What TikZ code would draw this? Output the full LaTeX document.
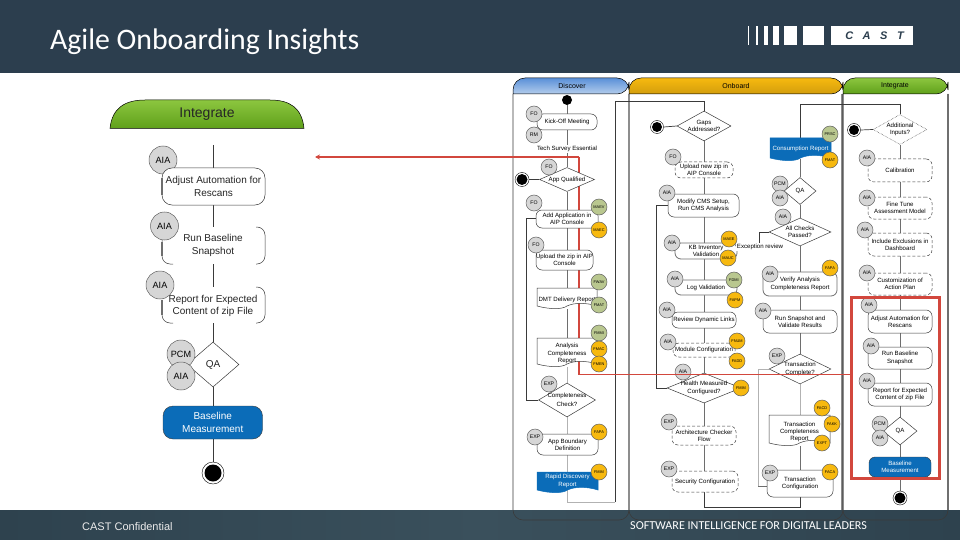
\documentclass[tikz,border=0pt]{standalone}
\usepackage{fontspec}
\setmainfont{Liberation Sans}
\newfontfamily\carlito{Carlito}
\usetikzlibrary{shapes.geometric,backgrounds,arrows.meta}
\definecolor{barcol}{HTML}{2C3E4E}
\definecolor{footcol}{HTML}{2E424E}
\definecolor{footlite}{HTML}{3A505C}
\definecolor{redcol}{HTML}{D2473D}
\definecolor{bluefill}{HTML}{0B6CB8}
\definecolor{rolegr}{HTML}{D6D6D6}
\definecolor{rolegn}{HTML}{B9C78F}
\definecolor{roleyl}{HTML}{F7B90F}
\definecolor{linecol}{HTML}{3A3A3A}
\definecolor{flowgr}{HTML}{6E6E6E}
\definecolor{greentop}{HTML}{8CC63F}
\definecolor{greenbot}{HTML}{5FA01A}
\definecolor{bluetop}{HTML}{5A90D8}
\definecolor{bluebot}{HTML}{B4CDEC}
\tikzset{
  small/.style={font=\fontsize{6.1}{7.3}\selectfont,align=center,inner sep=0pt,text=black},
  big/.style={font=\fontsize{10}{12.4}\selectfont,align=center,inner sep=0pt,text=black!85},
  headlabel/.style={small,font=\fontsize{7}{8}\selectfont},
  act/.style={draw=linecol,line width=0.5pt,fill=white,rounded corners=6pt,inner sep=0pt},
  actheavy/.style={act,draw=flowgr,line width=0.8pt},
  actdash/.style={act,densely dashed,draw=linecol},
  actbig/.style={act,rounded corners=10pt},
  actclear/.style={fill=white,inner sep=0pt},
  bluebox/.style={draw=linecol,line width=0.4pt,fill=bluefill,rounded corners=6pt,inner sep=0pt,text=white},
  bluebigbox/.style={bluebox,rounded corners=10pt},
  dia/.style={shape=diamond,draw=linecol,line width=0.5pt,fill=white,inner sep=0pt},
  diadash/.style={dia,densely dotted},
  rolegray/.style={circle,draw=linecol!80,line width=0.5pt,fill=rolegr,inner sep=0pt,text=black},
  rolegreen/.style={rolegray,fill=rolegn,font=\fontsize{3.9}{4}\selectfont},
  roleyellow/.style={rolegray,fill=roleyl,font=\fontsize{3.9}{4}\selectfont},
  flow/.style={draw=flowgr,line width=0.6pt},
  flowdark/.style={draw=linecol,line width=0.7pt},
  flowlite/.style={draw=black!30,line width=0.6pt},
  lane/.style={draw=linecol,line width=0.6pt,rounded corners=10pt},
  laneedge/.style={draw=black!45,line width=1.3pt},
  head/.style={draw=black,line width=0.5pt},
  redline/.style={draw=redcol,line width=1.7pt},
  bullseye/.style={circle,draw=black,line width=0.4pt,fill=white,inner sep=0pt},
  solidstart/.style={circle,fill=black,inner sep=0pt},
  docwhite/.style={fill=white,draw=linecol,line width=0.5pt},
  docblue/.style={fill=bluefill,draw=bluefill,line width=0.5pt}
}
% name, x1,y1,x2,y2 give the box corners
\newcommand\actnode[7][act]{\node[small,#1,minimum width={#5-#3},minimum height={#6-#4}] (#2) at ({(#3+#5)/2},{(#4+#6)/2}) {#7};}
\newcommand\bigact[7][actbig]{\node[big,#1,minimum width={#5-#3},minimum height={#6-#4}] (#2) at ({(#3+#5)/2},{(#4+#6)/2}) {#7};}
% diamond: name, cx, cy, half w, half h, text
\newcommand\dianode[7][dia]{\node[#1,minimum width={2*#5},minimum height={2*#6}] (#2) at (#3,#4) {};\node[small] (#2-t) at (#2.center) {#7};}
\newcommand\role[6][rolegray]{\pgfmathsetmacro\rolefs{#5*0.65}\node[font=\fontsize{\rolefs}{\rolefs}\selectfont,#1,minimum size={2*#5}] (#2) at (#3,#4) {#6};}
% document shape: style, name, x1,y1,x2,y2, text style, text
\newcommand\docnode[8][docwhite]{%
  \path[#1] (#3,#6) .. controls ({#3+0.22*(#5-#3)},{#6+3.5}) and ({#3+0.42*(#5-#3)},{#6+3.5}) .. ({(#3+#5)/2},#6) .. controls ({#3+0.62*(#5-#3)},{#6-3.5}) and ({#3+0.82*(#5-#3)},{#6-3.5}) .. (#5,#6) -- (#5,#4) -- (#3,#4) -- cycle;
  \node[small,#7,minimum width={#5-#3},minimum height={#6-#4}] (#2) at ({(#3+#5)/2},{(#4+#6)/2}) {#8};}
\newcommand\flw[4][flow]{\draw[#1] (#3.south -| #2) -- (#4.north -| #2);}
\begin{document}
\begin{tikzpicture}[x=1pt,y=-1pt]
\useasboundingbox (0,0) rectangle (960,540);
%%%%% top bar texts
\node[anchor=base west,text=white,inner sep=0pt,font=\carlito\fontsize{29.8}{32}\selectfont] (title) at (50,50) {Agile Onboarding Insights};
\foreach \a/\b in {748.3/749.4,755.7/758,764.3/767.7,773.3/779,784/797,803.3/824,831/913.3}
  \fill[white] (\a,26) rectangle (\b,45);
\node[font=\bfseries\itshape\fontsize{11}{12}\selectfont,text=barcol,inner sep=0pt] (logotext) at (874.5,35.5) {C\kern 9.5pt A\kern 9.5pt S\kern 9.5pt T};
%%%%% left enlarged panel
\path[head,top color=greentop,bottom color=greenbot] (110,128.5) .. controls (112,108) and (125,100) .. (145,100) -- (270,100) .. controls (290,100) and (302,108) .. (304,128.5) -- cycle;
\node[font=\fontsize{14}{16}\selectfont,inner sep=0pt,text=black!85] (lhead) at (207,114) {Integrate};
\role{l1}{163}{160}{14}{AIA}
\role{l2}{164.5}{226}{14}{AIA}
\role{l3}{160}{285}{14}{AIA}
\bigact{lAdj}{162}{168}{265}{205}{Adjust Automation for\\Rescans}
\bigact[actclear]{lRun}{180}{232}{258}{264}{}
\node[big] (lRunT) at (213,245.5) {Run Baseline\\Snapshot};
\bigact[actclear]{lRep}{175}{293}{265}{323}{}
\node[big] (lRepT) at (213,306) {Report for Expected\\Content of zip File};
\draw[linecol,line width=0.5pt,rounded corners=8pt] (173,264) -- (162,264) -- (162,240);
\draw[linecol,line width=0.5pt,rounded corners=8pt] (256,227) -- (265,227) -- (265,264) -- (256,264);
\draw[linecol,line width=0.5pt,rounded corners=8pt] (173,323) -- (162,323) -- (162,300);
\draw[linecol,line width=0.5pt,rounded corners=8pt] (256,287) -- (265,287) -- (265,323) -- (256,323);
\draw[flowgr,line width=1.1pt] (162,178) -- (162,195) (162,242) -- (162,256) (162,300) -- (162,315);
\node[dia,minimum width=52,minimum height=45] (lQA) at (213,364.5) {};
\node[big] (lQAt) at (lQA.center) {QA};
\role{l4}{181}{354}{14}{PCM}
\role{l5}{181}{376}{14}{AIA}
\bigact[bluebigbox]{lBase}{163}{406}{262.5}{439}{Baseline\\Measurement}
\node[bullseye,minimum size=22,path picture={\fill[black] (path picture bounding box.center) circle (8.5);}] (lEnd) at (213,473) {};
\coordinate (lTop) at (213,145);
%%%%% lane headers
\path[head,top color=bluetop,bottom color=bluebot,rounded corners=12pt] (513,94) -- (513,78) -- (629,78) -- (629,94) [sharp corners] -- cycle;
\path[head,top color=roleyl,bottom color=roleyl!85!black,rounded corners=12pt] (629,94) -- (629,78) -- (843,78) -- (843,94) [sharp corners] -- cycle;
\path[head,top color=greentop,bottom color=greenbot,rounded corners=12pt] (843,94) -- (843,78) -- (948,78) -- (948,94) [sharp corners] -- cycle;
\node[headlabel] (hDis) at (572,86) {Discover};
\node[headlabel] (hOnb) at (736,86) {Onboard};
\node[headlabel] (hInt) at (895,86) {Integrate};
%%%%% Discover
\node[solidstart,minimum size=10] (dStart) at (567,100) {};
\actnode{dKick}{537}{114}{597}{130}{Kick-Off Meeting}
\node[small,fill=white,inner sep=1pt] (dTech) at (567,149) {Tech Survey Essential};
\dianode{dApp}{567}{179.5}{27.5}{12}{App Qualified}
\node[bullseye,minimum size=14,path picture={\fill[black] (path picture bounding box.center) circle (5.5);}] (dInit) at (522,179.5) {};
\actnode{dAdd}{536}{210}{598}{228}{Add Application in\\AIP Console}
\actnode{dUp}{536}{250}{593}{270}{Upload the zip in AIP\\Console}
\docnode{dDMT}{537}{288}{597}{306}{yshift=-3pt}{DMT Delivery Report}
\docnode{dAna}{537}{338}{597}{364}{yshift=-2.5pt}{Analysis\\Completeness\\Report}
\dianode{dCom}{567}{400}{28.5}{17}{Completeness\\[2pt]Check?}
\actnode{dBou}{537}{434}{598}{455}{App Boundary\\Definition}
\docnode[docblue]{dRap}{537}{472}{598}{490}{text=white}{Rapid Discovery\\Report}
\role{r1}{534}{114}{8}{FO}
\role{r2}{534}{135}{8}{RM}
\role{r3}{549}{167}{8}{FO}
\role{r4}{534}{203}{8}{FO}
\role[rolegreen]{r5}{599}{207}{8}{MAEV}
\role[roleyellow]{r6}{599}{230}{8}{MAEC}
\role{r7}{536}{245}{8}{FO}
\role[rolegreen]{r8}{599}{282}{8}{FWAV}
\role[rolegreen]{r9}{599}{305}{8}{FMAT}
\role[rolegreen]{r10}{599}{333}{8}{FMMI}
\role[roleyellow]{r11}{599}{349}{8}{FMAC}
\role[roleyellow]{r12}{599}{364}{8}{FMEN}
\role{r13}{549}{384}{8}{EXP}
\role{r14}{535}{437}{8}{EXP}
\role[roleyellow]{r15}{599}{432}{8}{FAPA}
\role[roleyellow]{r16}{599}{472}{8}{FMIM}
%%%%% Onboard, first column
\node[bullseye,minimum size=13,path picture={\fill[black] (path picture bounding box.center) circle (5);}] (oInit) at (657,127) {};
\dianode{oGaps}{704}{126}{27}{15}{Gaps\\Addressed?}
\actnode[actdash]{oUp}{675}{162}{733}{178}{Upload new zip in\\AIP Console}
\actnode{oMod}{668}{194}{739}{217}{Modify CMS Setup,\\Run CMS Analysis}
\actnode[actheavy]{oKB}{675}{243}{737}{259}{KB Inventory\\Validation}
\actnode[actheavy]{oLog}{675}{280}{737}{295}{Log Validation}
\actnode{oRev}{672}{312}{736}{328}{Review Dynamic Links}
\actnode[actdash]{oModu}{673}{343}{735}{357}{Module Configuration}
\dianode{oHea}{704}{388}{37}{15}{Health Measured\\Configured?}
\actnode[actdash]{oArc}{672}{426}{736}{445}{Architecture Checker\\Flow}
\actnode[actdash]{oSec}{672}{471}{738}{492}{Security Configuration}
\role{s1}{673}{157}{8}{FO}
\role{s2}{667}{193}{8}{AIA}
\role{s3}{672}{243}{8}{AIA}
\role[roleyellow]{s4}{729}{239}{8}{MAEE}
\role[roleyellow]{s5}{728}{258}{8}{MAUC}
\role{s6}{675}{279}{8}{AIA}
\role[rolegreen]{s7}{734}{280}{8}{FDMI}
\role[roleyellow]{s8}{735}{300}{8}{FAPM}
\role{s9}{667}{310}{8}{AIA}
\role{s10}{668}{342}{8}{AIA}
\role[roleyellow]{s11}{737}{341}{8}{FNUM}
\role[roleyellow]{s12}{737}{361}{8}{FADD}
\role{s13}{683}{372}{8}{AIA}
\role[roleyellow]{s14}{741}{388}{8}{FMIM}
\role{s15}{669}{422}{8}{EXP}
\role{s16}{669}{469}{8}{EXP}
%%%%% Onboard, second column
\docnode[docblue]{oCon}{770}{138}{831}{158}{text=white,yshift=-1pt}{Consumption Report}
\dianode{oQA}{800}{191}{16}{13.5}{QA}
\dianode{oAll}{800}{232}{31}{14}{All Checks\\Passed?}
\node[small,fill=white,inner sep=1pt] (oExc) at (760,247) {Exception review};
\actnode[actheavy]{oVer}{763}{272}{837}{296}{Verify Analysis\\Completeness Report}
\actnode{oRun}{763}{310}{837}{333}{Run Snapshot and\\Validate Results}
\dianode{oTC}{800}{369}{31}{15}{Transaction\\Complete?}
\docnode{oTR}{769}{415}{830}{443}{yshift=-3pt}{Transaction\\Completeness\\Report}
\actnode{oTF}{767}{470}{833}{497}{Transaction\\Configuration}
\role[rolegreen]{t1}{830}{134}{8}{PRSC}
\role[roleyellow]{t2}{830}{160}{8}{FMAT}
\role{t3}{780}{184}{8}{PCM}
\role{t4}{780}{198}{8}{AIA}
\role{t5}{783}{217}{8}{AIA}
\role{t6}{770}{274}{8}{AIA}
\role[roleyellow]{t7}{830}{268}{8}{FAPA}
\role{t8}{763}{311}{8}{AIA}
\role{t9}{777}{356}{8}{EXP}
\role[roleyellow]{t10}{822}{408}{8}{FACD}
\role[roleyellow]{t11}{832}{424}{8}{FAKK}
\role[roleyellow]{t12}{822}{443}{8}{EXPT}
\role{t13}{770}{473}{8}{EXP}
\role[roleyellow]{t14}{830}{472}{8}{FACA}
%%%%% Integrate
\node[bullseye,minimum size=13,path picture={\fill[black] (path picture bounding box.center) circle (5);}] (iInit) at (854,130) {};
\dianode[diadash]{iAdd}{900}{129.5}{27}{15}{Additional\\Inputs?}
\actnode[actdash]{iCal}{868}{159}{932}{182}{Calibration}
\actnode[actdash]{iFin}{868}{197}{932}{219}{Fine Tune\\Assessment Model}
\actnode[actdash]{iInc}{868}{233}{932}{256}{Include Exclusions in\\Dashboard}
\actnode[actdash]{iCus}{868}{273}{932}{295}{Customization of\\Action Plan}
\actnode{iAdj}{868}{310}{932}{333}{Adjust Automation for\\Rescans}
\actnode{iRun}{868}{347}{932}{369}{Run Baseline\\Snapshot}
\actnode{iRep}{868}{383}{932}{406}{Report for Expected\\Content of zip File}
\dianode{iQA}{900}{431}{17}{14}{QA}
\actnode[bluebox]{iBas}{869}{457}{931}{477}{Baseline\\Measurement}
\node[bullseye,minimum size=14,path picture={\fill[black] (path picture bounding box.center) circle (5.5);}] (iEnd) at (900,498) {};
\role{u1}{867}{158}{8}{AIA}
\role{u2}{867}{198}{8}{AIA}
\role{u3}{865}{230}{8}{AIA}
\role{u4}{867}{273}{8}{AIA}
\role{u5}{869}{305}{8}{AIA}
\role{u6}{871}{346}{8}{AIA}
\role{u7}{867}{381}{8}{AIA}
\role{u8}{880}{424}{8}{PCM}
\role{u9}{880}{438}{8}{AIA}
%%%%% footer texts
\node[anchor=west,inner sep=0pt,text=white!92!black,font=\fontsize{11}{12}\selectfont] (conf) at (82,527) {CAST Confidential};
\node[anchor=west,inner sep=0pt,text=white,font=\carlito\fontsize{12.1}{13}\selectfont] (slogan) at (630,526) {SOFTWARE INTELLIGENCE FOR DIGITAL LEADERS};
%%%%% named points
\coordinate (tL) at (213,0);
\coordinate (tD) at (567,0);
\coordinate (tO) at (704,0);
\coordinate (tP) at (800,0);
\coordinate (tI) at (900,0);
\coordinate (lR1) at (213,227);
\coordinate (lR2) at (213,287);
\coordinate (dLoop) at (526,218);
\coordinate (dB1) at (567,502);
\coordinate (dB2) at (615,502);
\coordinate (dB3) at (615,101);
\coordinate (dB4) at (704,101);
\coordinate (oLoop) at (656,205);
\coordinate (oB1) at (704,507);
\coordinate (oB2) at (800,507);
\coordinate (oT1) at (800,104);
\coordinate (oT2) at (900,104);
\coordinate (pLoop) at (758,486);
\coordinate (excTop) at (759,232);
\coordinate (redtop) at (579,157);
\coordinate (redtip) at (315,157);
\coordinate (redcorner) at (579,374.5);
\node[draw=redcol,line width=3pt,minimum width=88,minimum height=181,inner sep=0pt] (redbox) at (895,387.5) {};
%%%%% behind the nodes
\begin{scope}[on background layer]
\fill[barcol] (0,0) rectangle (960,73);
\draw[laneedge] (842,94) -- (842,510);
\draw[laneedge] (948,94) -- (948,510);
\shade[left color=footcol,right color=footcol,middle color=footlite] (0,510) rectangle (960,540);
\draw[lane] (513,94) -- (513,520) -- (629,520) -- (629,94);
\draw[lane] (629,94) -- (629,520) -- (843,520) -- (843,94);
\draw[lane] (843,94) -- (843,520) -- (948,520) -- (948,94);
\draw[redline] (redtop) -- (redcorner);
% left panel
\draw[flowdark] (lTop) -- (lAdj.north -| tL);
\draw[flowdark] (lAdj.south -| tL) -- (lR1);
\draw[flowdark] (lRun.south -| tL) -- (lR2);
\draw[flowdark] (lRep.south -| tL) -- (lQA.north);
\draw[flowdark] (lQA.south) -- (lBase.north -| tL);
\draw[flowdark] (lBase.south -| tL) -- (lEnd.north);
% discover
\flw{tD}{dStart}{dKick}
\flw{tD}{dKick}{dTech}
\flw{tD}{dTech}{dApp}
\flw{tD}{dApp}{dAdd}
\flw{tD}{dAdd}{dUp}
\flw{tD}{dUp}{dDMT}
\flw{tD}{dDMT}{dAna}
\flw[flowlite]{tD}{dAna}{dCom}
\flw[flowlite]{tD}{dCom}{dBou}
\flw[flowlite]{tD}{dBou}{dRap}
\draw[flowlite] (dRap.south -| tD) -- (dB1) -- (dB2);
\draw[flowdark] (dB2) -- (dB3) -- (dB4) -- (oGaps.north);
\draw[flowdark] (dInit.east) -- (dApp.west);
\draw[flowdark] (dCom.west) -- (dCom.west -| dLoop) -- (dLoop) -- (dLoop -| dAdd.west);
% onboard 1
\draw[flowdark] (oInit.east) -- (oGaps.west);
\flw{tO}{oGaps}{oUp}
\flw{tO}{oUp}{oMod}
\flw{tO}{oMod}{oKB}
\flw{tO}{oKB}{oLog}
\flw{tO}{oLog}{oRev}
\flw{tO}{oRev}{oModu}
\flw{tO}{oModu}{oHea}
\flw{tO}{oHea}{oArc}
\flw{tO}{oArc}{oSec}
\draw[flowdark] (oSec.south -| tO) -- (oB1) -- (oB2) -- (oTF.south -| tP);
\draw[flowdark] (oHea.west) -- (oHea.west -| oLoop) -- (oLoop) -- (oLoop -| oMod.west);
% onboard 2
\draw[flowdark] (oT2) -- (oT1) -- (oCon.north -| tP);
\draw[flowdark] (oT2) -- (iAdd.north);
\flw{tP}{oCon}{oQA}
\flw{tP}{oQA}{oAll}
\flw{tP}{oAll}{oVer}
\flw{tP}{oVer}{oRun}
\flw{tP}{oRun}{oTC}
\flw[flowlite]{tP}{oTC}{oTR}
\flw{tP}{oTR}{oTF}
\draw[flowdark] (oAll.west) -- (excTop) -- (oExc.north -| excTop);
\draw[flowlite] (oTC.west) -- (oTC.west -| pLoop) -- (pLoop);
\draw[flow] (pLoop) -- (pLoop -| oTF.west);
% integrate
\draw[flowdark] (iInit.east) -- (iAdd.west);
\flw{tI}{iAdd}{iCal}
\flw{tI}{iCal}{iFin}
\flw{tI}{iFin}{iInc}
\flw{tI}{iInc}{iCus}
\flw{tI}{iCus}{iAdj}
\flw{tI}{iAdj}{iRun}
\flw{tI}{iRun}{iRep}
\flw{tI}{iRep}{iQA}
\flw{tI}{iQA}{iBas}
\flw{tI}{iBas}{iEnd}
\end{scope}
%%%%% red highlight on top
\draw[redline,-{Stealth[length=5pt,width=5pt]}] (redtop) -- (redtip);
\draw[redline] (redcorner) -- (redcorner -| redbox.west);
\end{tikzpicture}
\end{document}
